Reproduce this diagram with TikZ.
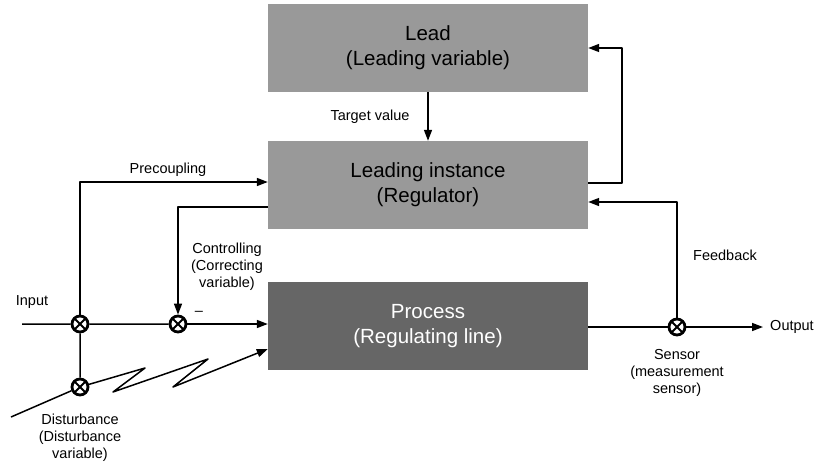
\documentclass[tikz,border=0pt]{standalone}
\usepackage{fontspec}
\setmainfont{Liberation Sans}
\usetikzlibrary{arrows.meta,positioning}
\definecolor{boxgray}{RGB}{153,153,153}
\definecolor{procgray}{RGB}{102,102,102}
\def\Frame{(0,0) rectangle (819,468)}
\tikzset{
  block/.style={fill=boxgray, minimum width=320pt, minimum height=88pt, align=center, inner sep=0pt,
    font=\fontsize{20.5}{25}\selectfont},
  mix/.style={circle, draw, line width=2.8pt, minimum size=16pt, inner sep=0pt,
    path picture={\draw[line width=2pt] (path picture bounding box.south west) -- (path picture bounding box.north east)
      (path picture bounding box.north west) -- (path picture bounding box.south east);}},
  lbl/.style={font=\fontsize{14.5}{17}\selectfont, align=center, inner sep=0pt},
  sig/.style={line width=1.5pt, line join=round, -{Triangle[length=11pt,width=8pt]}},
  wire/.style={line width=1.5pt}
}
\begin{document}
\begin{tikzpicture}[x=1pt,y=-1pt]
    \useasboundingbox \Frame;
    \node[block] (lead) at (428,48) {Lead\\(Leading variable)};
    \node[block] (inst) at (428,185) {Leading instance\\(Regulator)};
    \node[block, fill=procgray, text=white] (proc) at (428,326) {Process\\(Regulating line)};
    \node[mix] (m1) at (80,324) {};
    \node[mix] (m2) at (178,324) {};
    \node[mix] (m3) at (80,387) {};
    \node[mix] (sens) at (677,327) {};
    \coordinate (in) at (22,324);
    \coordinate (out) at (763,327);
    \coordinate (dist) at (11,417);

    \draw[sig] (lead) -- (inst);
    \draw[sig] ([yshift=2pt]inst.east) -- ++(34,0) |- (lead.east);
    \draw[sig] (sens) |- ([yshift=-17pt]inst.east);
    \draw[sig] (m1) |- ([yshift=3pt]inst.west);
    \draw[sig] ([yshift=-22pt]inst.west) -| (m2);
    \draw[wire] (in) -- (m1) -- (m2) (m1) -- (m3) (dist) -- (m3);
    \draw[sig] (m2) -- (m2 -| proc.west);
    \draw[wire] (proc.east |- sens) -- (sens);
    \draw[sig] (sens) -- (out);
    \draw[sig] (m3) -- (145,368) -- (113,392) -- (208,359) -- (173,387) -- ([yshift=-23pt]proc.west);

    \node[lbl] (tv) at (370,117) {Target value};
    \node[lbl] (pc) at (168,170) {Precoupling};
    \node[lbl] (ctl) at (227,267) {Controlling\\(Correcting\\variable)};
    \node[lbl] (inp) at (32,302) {Input};
    \node[lbl] (neg) at (199,313) {--};
    \node[lbl] (fb) at (725,255) {Feedback};
    \node[lbl] (outl) at (792,327) {Output};
    \node[lbl] (sl) at (677,373) {Sensor\\(measurement\\sensor)};
    \node[lbl] (dl) at (80,438) {Disturbance\\(Disturbance\\variable)};
  \end{tikzpicture}
\end{document}
